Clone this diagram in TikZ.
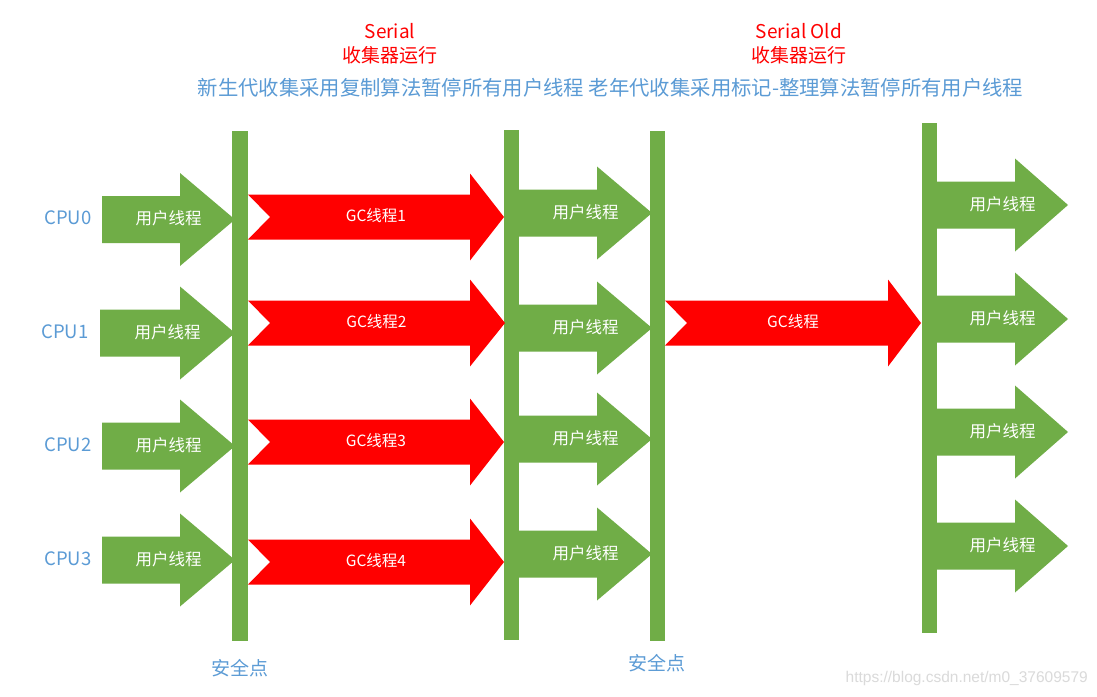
\documentclass[tikz,border=0pt]{standalone}
\usepackage{fontspec}
\setmainfont{Noto Sans CJK SC}
\newfontfamily\wmfont{Liberation Sans}
\definecolor{bargreen}{HTML}{70AD47}
\definecolor{gcred}{HTML}{FF0000}
\definecolor{txtblue}{HTML}{5B9BD5}
\definecolor{wmgray}{HTML}{DADADA}
\tikzset{
  bar/.style={fill=bargreen, draw=none, inner sep=0pt, minimum width=15.5pt},
  ulbl/.style={text=white, font=\fontsize{16.5}{18}\selectfont, inner sep=0pt},
  gclbl/.style={text=white, font=\fontsize{15.5}{17}\selectfont, inner sep=0pt},
  cpulbl/.style={text=txtblue, font=\fontsize{18.5}{20}\selectfont, inner sep=0pt},
  redtitle/.style={text=gcred, font=\fontsize{19}{21}\selectfont, inner sep=0pt},
  bluetitle/.style={text=txtblue, font=\fontsize{20.35}{22}\selectfont, inner sep=0pt},
  safelbl/.style={text=txtblue, font=\fontsize{19}{21}\selectfont, inner sep=0pt},
}
% green arrow: name, x0, xhead, xtip, ycenter, text
\newcommand\garrow[6]{%
  \fill[bargreen] (#2,#5-23.5) -- (#3,#5-23.5) -- (#3,#5-46.5) -- (#4,#5)
    -- (#3,#5+46.5) -- (#3,#5+23.5) -- (#2,#5+23.5) -- cycle;
  \node[ulbl] (#1) at ({(#2+#4)/2},#5-1) {#6};}
% red notched arrow: name, x0, xhead, xtip, ycenter, text
\newcommand\rarrow[6]{%
  \fill[gcred] (#2,#5-22.5) -- (#3,#5-22.5) -- (#3,#5-43.5) -- (#4,#5)
    -- (#3,#5+43.5) -- (#3,#5+22.5) -- (#2,#5+22.5) -- (#2+22,#5) -- cycle;
  \node[gclbl] (#1) at ({(#2+#4)/2},#5-1) {#6};}
\begin{document}
\begin{tikzpicture}[x=1pt,y=-1pt]
\useasboundingbox[fill=white] (0,0) rectangle (1097,696);

% titles
\node[redtitle] (t1a) at (390,31) {Serial};
\node[redtitle] (t1b) at (390,55) {收集器运行};
\node[redtitle] (t2a) at (799,31) {Serial Old};
\node[redtitle] (t2b) at (799,55) {收集器运行};
\node[bluetitle] (desc) at (610.5,88) {新生代收集采用复制算法暂停所有用户线程 老年代收集采用标记-整理算法暂停所有用户线程};

% safepoint bars
\node[bar, minimum height=510pt] (b1) at (240,386) {};
\node[bar, minimum height=510pt] (b2) at (511.5,385) {};
\node[bar, minimum height=510pt] (b3) at (657.5,386) {};
\node[bar, minimum height=510pt] (b4) at (929.5,378) {};

% CPU labels
\node[cpulbl] (cpu0) at (68,218) {CPU0};
\node[cpulbl] (cpu1) at (65,332) {CPU1};
\node[cpulbl] (cpu2) at (68,445) {CPU2};
\node[cpulbl] (cpu3) at (68,559) {CPU3};

% column 1: user threads
\garrow{u10}{102}{180}{235}{219.5}{用户线程}
\garrow{u11}{100}{180}{235}{333}{用户线程}
\garrow{u12}{102}{180}{235}{446}{用户线程}
\garrow{u13}{102}{180}{235}{560}{用户线程}

% column 2: GC threads (Serial)
\rarrow{gc1}{248}{470}{504}{217}{GC线程1}
\rarrow{gc2}{248}{470}{505}{323}{GC线程2}
\rarrow{gc3}{248}{470}{504}{442}{GC线程3}
\rarrow{gc4}{248}{470}{504}{562}{GC线程4}

% column 3: user threads
\garrow{u20}{519}{597}{652}{213}{用户线程}
\garrow{u21}{519}{597}{652}{328}{用户线程}
\garrow{u22}{519}{597}{652}{439}{用户线程}
\garrow{u23}{519}{597}{652}{554}{用户线程}

% column 4: Serial Old GC thread
\rarrow{gco}{665}{888}{921}{323}{GC线程}

% column 5: user threads
\garrow{u30}{937}{1015}{1068}{205}{用户线程}
\garrow{u31}{937}{1015}{1068}{319}{用户线程}
\garrow{u32}{937}{1015}{1068}{432}{用户线程}
\garrow{u33}{937}{1015}{1068}{546}{用户线程}

% safepoint labels
\node[safelbl] (s1) at (240,668) {安全点};
\node[safelbl] (s2) at (657,663) {安全点};

% watermark
\node[text=wmgray, font=\wmfont\fontsize{15.5}{17}\selectfont, inner sep=0pt, anchor=east] (wm) at (1088,678) {https://blog.csdn.net/m0\_37609579};
\end{tikzpicture}
\end{document}
